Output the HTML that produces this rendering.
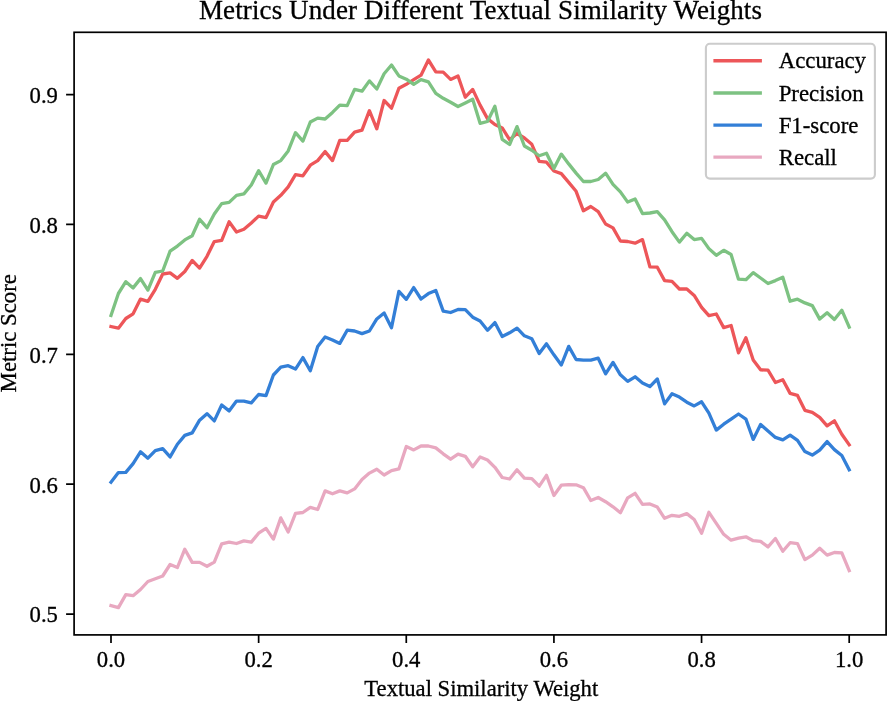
<!DOCTYPE html>
<html lang="en"><head><meta charset="utf-8"><title>Metrics Under Different Textual Similarity Weights</title>
<style>html,body{margin:0;padding:0;background:#fff;overflow:hidden}svg{display:block}text{font-family:"Liberation Serif","Times New Roman",serif;fill:#000;stroke:#000;stroke-width:0.3px}</style>
</head><body>
<svg width="887" height="701" viewBox="0 0 887 701">
<rect x="0" y="0" width="887" height="701" fill="#ffffff"/>
<text x="480.5" y="18.95" font-size="27" text-anchor="middle" textLength="563" lengthAdjust="spacing">Metrics Under Different Textual Similarity Weights</text>
<polyline fill="none" stroke="#ed5659" stroke-width="3.3" stroke-linejoin="round" stroke-linecap="square" points="111.0,326.5 118.4,328.2 125.8,318.5 133.1,313.8 140.5,299.1 147.9,301.4 155.3,289.3 162.7,274.0 170.1,272.9 177.4,278.3 184.8,271.5 192.2,260.5 199.6,268.1 207.0,256.3 214.3,241.6 221.7,240.4 229.1,221.8 236.5,232.0 243.9,229.3 251.3,223.0 258.6,216.1 266.0,217.6 273.4,202.0 280.8,195.3 288.2,186.8 295.5,174.6 302.9,175.8 310.3,165.2 317.7,160.6 325.1,151.6 332.5,160.6 339.8,140.3 347.2,140.3 354.6,132.2 362.0,130.1 369.4,110.7 376.8,128.8 384.1,100.5 391.5,108.2 398.9,88.2 406.3,84.3 413.7,79.7 421.0,75.2 428.4,60.0 435.8,71.8 443.2,72.1 450.6,79.4 458.0,76.0 465.3,97.2 472.7,89.4 480.1,105.1 487.5,118.6 494.9,124.5 502.2,127.9 509.6,139.7 517.0,133.5 524.4,138.0 531.8,144.3 539.2,161.4 546.5,162.2 553.9,171.0 561.3,173.6 568.7,182.4 576.1,191.3 583.4,210.8 590.8,206.5 598.2,211.6 605.6,224.0 613.0,227.9 620.4,241.0 627.7,241.5 635.1,243.2 642.5,239.6 649.9,266.8 657.3,267.2 664.6,280.6 672.0,281.4 679.4,289.0 686.8,289.0 694.2,295.4 701.6,307.3 708.9,315.7 716.3,314.0 723.7,327.6 731.1,325.5 738.5,352.9 745.9,337.7 753.2,360.0 760.6,369.8 768.0,370.2 775.4,382.5 782.8,379.7 790.1,393.4 797.5,395.4 804.9,410.3 812.3,412.4 819.7,417.4 827.1,425.9 834.4,420.8 841.8,434.3 849.2,444.8"/>
<polyline fill="none" stroke="#7dc282" stroke-width="3.3" stroke-linejoin="round" stroke-linecap="square" points="111.0,315.5 118.4,293.5 125.8,281.7 133.1,287.9 140.5,278.6 147.9,290.1 155.3,272.4 162.7,271.0 170.1,251.2 177.4,246.1 184.8,239.9 192.2,235.7 199.6,219.3 207.0,227.7 214.3,214.0 221.7,203.6 229.1,202.4 236.5,195.4 243.9,193.9 251.3,185.0 258.6,170.7 266.0,183.1 273.4,164.5 280.8,160.6 288.2,150.9 295.5,132.7 302.9,141.1 310.3,122.0 317.7,118.1 325.1,119.0 332.5,112.4 339.8,105.1 347.2,105.6 354.6,89.4 362.0,91.2 369.4,80.9 376.8,89.0 384.1,73.8 391.5,65.0 398.9,75.9 406.3,79.2 413.7,84.3 421.0,79.7 428.4,81.8 435.8,93.3 443.2,98.3 450.6,102.2 458.0,106.5 465.3,102.9 472.7,99.2 480.1,123.3 487.5,121.5 494.9,106.3 502.2,139.4 509.6,144.5 517.0,126.6 524.4,146.0 531.8,150.2 539.2,155.8 546.5,153.3 553.9,168.5 561.3,154.1 568.7,163.9 576.1,173.1 583.4,181.5 590.8,181.5 598.2,179.5 605.6,173.2 613.0,184.3 620.4,191.9 627.7,202.1 635.1,199.0 642.5,213.6 649.9,213.0 657.3,211.7 664.6,219.8 672.0,231.7 679.4,242.1 686.8,233.3 694.2,239.6 701.6,238.4 708.9,248.6 716.3,255.3 723.7,250.3 731.1,254.5 738.5,279.2 745.9,279.7 753.2,272.6 760.6,278.0 768.0,283.5 775.4,280.6 782.8,277.2 790.1,301.2 797.5,299.2 804.9,302.9 812.3,305.6 819.7,319.1 827.1,312.7 834.4,319.5 841.8,310.2 849.2,327.1"/>
<polyline fill="none" stroke="#337fd7" stroke-width="3.3" stroke-linejoin="round" stroke-linecap="square" points="111.0,482.2 118.4,472.6 125.8,472.4 133.1,463.6 140.5,451.8 147.9,458.2 155.3,450.6 162.7,448.6 170.1,456.9 177.4,444.2 184.8,435.4 192.2,432.9 199.6,420.2 207.0,413.7 214.3,420.9 221.7,405.0 229.1,410.9 236.5,401.1 243.9,401.1 251.3,402.8 258.6,394.5 266.0,395.6 273.4,375.0 280.8,367.1 288.2,365.7 295.5,369.1 302.9,357.6 310.3,370.8 317.7,346.6 325.1,337.0 332.5,340.0 339.8,343.4 347.2,330.2 354.6,331.0 362.0,333.6 369.4,331.0 376.8,318.9 384.1,312.9 391.5,327.7 398.9,291.3 406.3,299.3 413.7,287.6 421.0,299.0 428.4,293.6 435.8,290.5 443.2,311.1 450.6,312.5 458.0,309.5 465.3,309.6 472.7,317.2 480.1,321.0 487.5,330.3 494.9,322.6 502.2,336.5 509.6,332.8 517.0,328.1 524.4,335.8 531.8,338.7 539.2,353.6 546.5,343.8 553.9,354.8 561.3,365.0 568.7,346.4 576.1,359.5 583.4,360.2 590.8,360.2 598.2,358.2 605.6,373.9 613.0,362.4 620.4,374.8 627.7,381.4 635.1,376.8 642.5,383.1 649.9,386.6 657.3,379.0 664.6,403.9 672.0,393.7 679.4,397.1 686.8,402.2 694.2,405.9 701.6,401.8 708.9,413.2 716.3,430.1 723.7,424.2 731.1,419.1 738.5,414.0 745.9,419.1 753.2,439.4 760.6,424.5 768.0,431.0 775.4,437.4 782.8,439.9 790.1,435.2 797.5,440.3 804.9,451.6 812.3,455.1 819.7,450.1 827.1,441.6 834.4,449.6 841.8,455.5 849.2,469.8"/>
<polyline fill="none" stroke="#e8a8c0" stroke-width="3.3" stroke-linejoin="round" stroke-linecap="square" points="111.0,605.5 118.4,607.6 125.8,594.6 133.1,595.7 140.5,589.5 147.9,581.5 155.3,578.8 162.7,576.0 170.1,564.5 177.4,567.5 184.8,549.2 192.2,562.4 199.6,562.4 207.0,566.3 214.3,562.1 221.7,543.8 229.1,542.1 236.5,543.5 243.9,540.9 251.3,542.1 258.6,533.2 266.0,528.4 273.4,539.1 280.8,517.9 288.2,532.0 295.5,513.4 302.9,512.5 310.3,507.3 317.7,509.5 325.1,490.9 332.5,493.8 339.8,490.9 347.2,492.9 354.6,488.9 362.0,479.4 369.4,473.1 376.8,469.2 384.1,475.0 391.5,470.6 398.9,468.9 406.3,446.5 413.7,449.9 421.0,446.0 428.4,446.0 435.8,447.9 443.2,453.8 450.6,459.2 458.0,454.1 465.3,456.3 472.7,466.8 480.1,457.0 487.5,460.0 494.9,467.3 502.2,477.5 509.6,479.0 517.0,469.8 524.4,478.1 531.8,478.6 539.2,486.2 546.5,475.3 553.9,495.5 561.3,485.2 568.7,484.6 576.1,484.8 583.4,487.7 590.8,500.5 598.2,497.5 605.6,501.7 613.0,506.8 620.4,512.7 627.7,497.8 635.1,493.3 642.5,504.3 649.9,503.9 657.3,507.1 664.6,518.3 672.0,515.3 679.4,516.3 686.8,513.6 694.2,519.5 701.6,533.3 708.9,512.3 716.3,523.3 723.7,534.3 731.1,540.2 738.5,538.2 745.9,536.8 753.2,540.7 760.6,541.4 768.0,546.9 775.4,538.5 782.8,551.2 790.1,542.7 797.5,543.6 804.9,559.6 812.3,555.1 819.7,548.3 827.1,555.1 834.4,552.5 841.8,552.9 849.2,570.6"/>
<path d="M111.00 634.9V642.9M258.64 634.9V642.9M406.28 634.9V642.9M553.92 634.9V642.9M701.56 634.9V642.9M849.20 634.9V642.9M74.1 94.55H66.1M74.1 224.43H66.1M74.1 354.30H66.1M74.1 484.18H66.1M74.1 614.05H66.1" stroke="#000" stroke-width="1.7" fill="none"/>
<rect x="74.1" y="32.3" width="812.0" height="602.6" fill="none" stroke="#000" stroke-width="1.7" stroke-linejoin="miter"/>
<text x="111.00" y="666.75" font-size="22.7" text-anchor="middle">0.0</text>
<text x="258.64" y="666.75" font-size="22.7" text-anchor="middle">0.2</text>
<text x="406.28" y="666.75" font-size="22.7" text-anchor="middle">0.4</text>
<text x="553.92" y="666.75" font-size="22.7" text-anchor="middle">0.6</text>
<text x="701.56" y="666.75" font-size="22.7" text-anchor="middle">0.8</text>
<text x="849.20" y="666.75" font-size="22.7" text-anchor="middle">1.0</text>
<text x="57.9" y="102.90" font-size="22.7" text-anchor="end">0.9</text>
<text x="57.9" y="232.78" font-size="22.7" text-anchor="end">0.8</text>
<text x="57.9" y="362.65" font-size="22.7" text-anchor="end">0.7</text>
<text x="57.9" y="492.53" font-size="22.7" text-anchor="end">0.6</text>
<text x="57.9" y="622.40" font-size="22.7" text-anchor="end">0.5</text>
<text x="481.3" y="695.5" font-size="22.65" text-anchor="middle">Textual Similarity Weight</text>
<text transform="translate(16.0 333.2) rotate(-90)" font-size="22.8" text-anchor="middle">Metric Score</text>
<rect x="705.9" y="43.7" width="169.0" height="134.9" rx="4" ry="4" fill="#fff" fill-opacity="0.8" stroke="#cccccc" stroke-width="2.1"/>
<line x1="713.4" x2="761.9" y1="60.75" y2="60.75" stroke="#ed5659" stroke-width="3.3"/>
<text x="778.7" y="68.45" font-size="22.8">Accuracy</text>
<line x1="713.4" x2="761.9" y1="93.0" y2="93.0" stroke="#7dc282" stroke-width="3.3"/>
<text x="778.7" y="100.6" font-size="22.8">Precision</text>
<line x1="713.4" x2="761.9" y1="125.2" y2="125.2" stroke="#337fd7" stroke-width="3.3"/>
<text x="778.7" y="132.8" font-size="22.8">F1-score</text>
<line x1="713.4" x2="761.9" y1="157.2" y2="157.2" stroke="#e8a8c0" stroke-width="3.3"/>
<text x="778.7" y="164.9" font-size="22.8">Recall</text>
</svg></body></html>
